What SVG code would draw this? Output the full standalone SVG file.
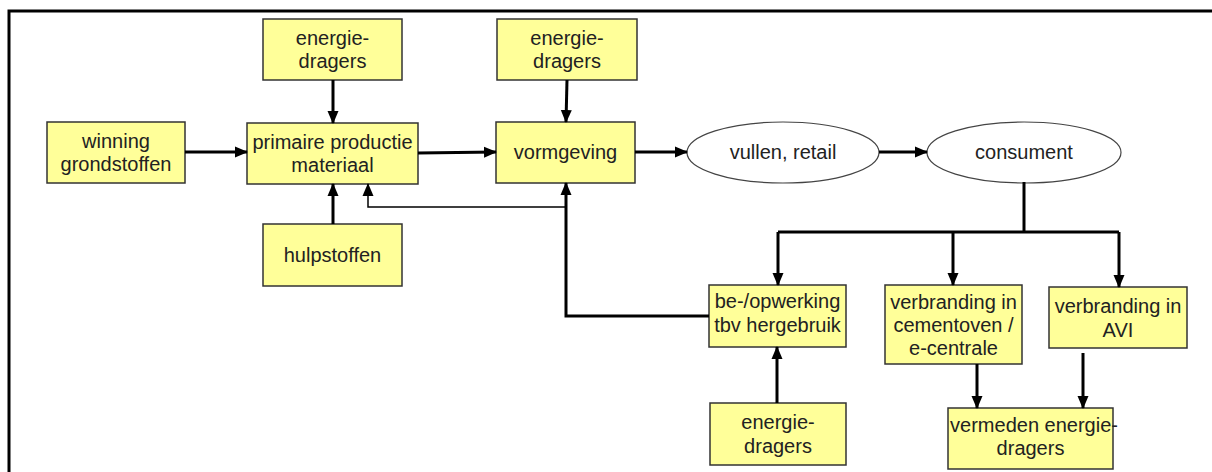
<svg xmlns="http://www.w3.org/2000/svg" width="1212" height="472" viewBox="0 0 1212 472">
<style>
.box{fill:#ffff99;stroke:#333;stroke-width:1.5}
.ell{fill:#fff;stroke:#444;stroke-width:1.2}
.t{font-family:"Liberation Sans",Arial,sans-serif;font-size:20px;fill:#222;text-anchor:middle}
.c{fill:none;stroke:#000;stroke-width:3}
.thin{fill:none;stroke:#000;stroke-width:1.5}
.frame{fill:none;stroke:#000;stroke-width:3}
</style>
<defs>
<marker id="ah" markerUnits="userSpaceOnUse" markerWidth="13" markerHeight="12" refX="12" refY="6" orient="auto">
<path d="M0,0.5 L13,6 L0,11.5 z" fill="#000"/>
</marker>
</defs>
<rect width="1212" height="472" fill="#fff"/>
<path class="frame" d="M9,472 L9,11 L1212,11"/>

<g id="n-energie1"><rect class="box" x="263" y="19" width="139" height="61"/><text class="t" x="332.5" y="45">energie-</text><text class="t" x="332.5" y="68">dragers</text></g>
<g id="n-winning"><rect class="box" x="47" y="122" width="138" height="61"/><text class="t" x="116" y="148">winning</text><text class="t" x="116" y="171">grondstoffen</text></g>
<g id="n-primaire"><rect class="box" x="247" y="123" width="171" height="61"/><text class="t" x="332.5" y="149">primaire productie</text><text class="t" x="332.5" y="172">materiaal</text></g>
<g id="n-hulpstoffen"><rect class="box" x="263" y="224" width="139" height="62"/><text class="t" x="332.5" y="262">hulpstoffen</text></g>
<g id="n-energie2"><rect class="box" x="497" y="19" width="140" height="61"/><text class="t" x="567" y="45">energie-</text><text class="t" x="567" y="68">dragers</text></g>
<g id="n-vormgeving"><rect class="box" x="496" y="122" width="139" height="61"/><text class="t" x="565.5" y="159">vormgeving</text></g>
<g id="n-vullen"><ellipse class="ell" cx="783" cy="152.5" rx="96" ry="30.5"/><text class="t" x="783" y="159">vullen, retail</text></g>
<g id="n-consument"><ellipse class="ell" cx="1024" cy="152.5" rx="97" ry="30.5"/><text class="t" x="1024" y="159">consument</text></g>
<g id="n-opwerking"><rect class="box" x="709" y="285" width="137" height="62"/><text class="t" x="777.5" y="308">be-/opwerking</text><text class="t" x="777.5" y="332">tbv hergebruik</text></g>
<g id="n-cementoven"><rect class="box" x="885" y="285" width="137" height="79"/><text class="t" x="953.5" y="309">verbranding in</text><text class="t" x="953.5" y="332">cementoven /</text><text class="t" x="953.5" y="355">e-centrale</text></g>
<g id="n-avi"><rect class="box" x="1049" y="287" width="138" height="61"/><text class="t" x="1118" y="313">verbranding in</text><text class="t" x="1118" y="337">AVI</text></g>
<g id="n-energie3"><rect class="box" x="710" y="403" width="136" height="62"/><text class="t" x="778" y="429">energie-</text><text class="t" x="778" y="453">dragers</text></g>
<g id="n-vermeden"><rect class="box" x="948" y="408" width="165" height="61"/><text class="t" x="1034" y="432">vermeden energie-</text><text class="t" x="1030.5" y="455">dragers</text></g>

<g id="connectors">
<path class="c" d="M185,152 L247,152" marker-end="url(#ah)"/>
<path class="c" d="M418,153 L496,152" marker-end="url(#ah)"/>
<path class="c" d="M635,152 L687,152" marker-end="url(#ah)"/>
<path class="c" d="M879,152 L927,152" marker-end="url(#ah)"/>
<path class="c" d="M333,80 L333,123" marker-end="url(#ah)"/>
<path class="c" d="M567,80 L566,122" marker-end="url(#ah)"/>
<path class="c" d="M333,224 L333,184" marker-end="url(#ah)"/>
<path class="thin" d="M566,207 L368,207 L368,184" marker-end="url(#ah)"/>
<path class="c" d="M709,316 L566,316 L566,183" marker-end="url(#ah)"/>
<path class="c" d="M1024,182 L1024,232"/>
<path class="c" d="M778,232 L1119,232"/>
<path class="c" d="M778,232 L778,285" marker-end="url(#ah)"/>
<path class="c" d="M953,232 L953,285" marker-end="url(#ah)"/>
<path class="c" d="M1119,232 L1119,287" marker-end="url(#ah)"/>
<path class="c" d="M777,403 L777,347" marker-end="url(#ah)"/>
<path class="c" d="M977,364 L977,408" marker-end="url(#ah)"/>
<path class="c" d="M1083,353 L1083,408" marker-end="url(#ah)"/>
</g>
</svg>
